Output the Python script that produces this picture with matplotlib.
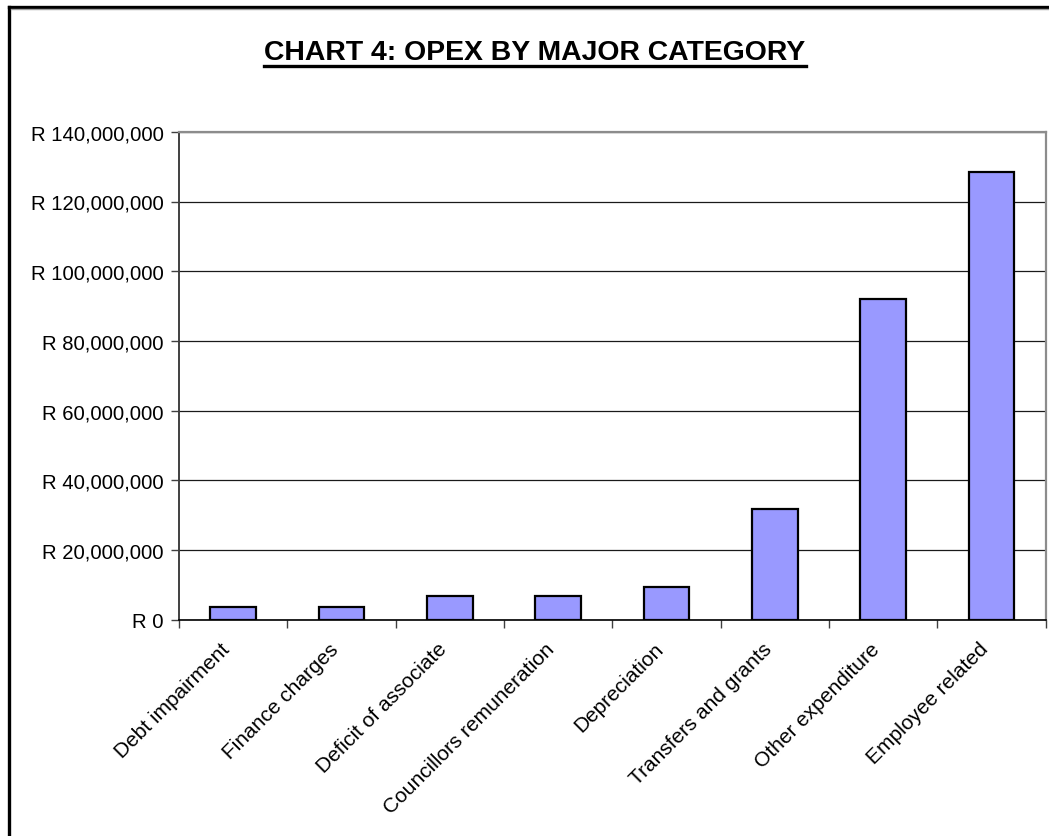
import matplotlib
matplotlib.use("Agg")
import matplotlib.pyplot as plt
from matplotlib.lines import Line2D
from matplotlib.ticker import FuncFormatter, FixedLocator
from matplotlib.transforms import ScaledTranslation

CATEGORIES = [
    "Debt impairment",
    "Finance charges",
    "Deficit of associate",
    "Councillors remuneration",
    "Depreciation",
    "Transfers and grants",
    "Other expenditure",
    "Employee related",
]
OPEX = [3_600_000, 3_600_000, 6_900_000, 6_900_000, 9_500_000,
        31_800_000, 92_100_000, 128_500_000]
Y_TICKS = [0, 20_000_000, 40_000_000, 60_000_000, 80_000_000,
           100_000_000, 120_000_000, 140_000_000]
TITLE = "CHART 4: OPEX BY MAJOR CATEGORY"

BAR = "#9999FF"
FONT = "Liberation Sans"

plt.rcParams["font.family"] = FONT

W, H = 1049, 837
fig = plt.figure(figsize=(W / 100, H / 100), dpi=100)
fig.patch.set_facecolor("white")

ax = fig.add_axes([179 / W, 1 - 620.7 / H, (1045.7 - 179) / W, (620.7 - 132.8) / H])
x = list(range(len(CATEGORIES)))
ax.bar(x, OPEX, width=0.42, color=BAR, edgecolor="black", linewidth=1.6, zorder=3)

ax.set_xlim(-0.5, len(CATEGORIES) - 0.5)
ax.set_ylim(0, Y_TICKS[-1])
ax.yaxis.set_major_locator(FixedLocator(Y_TICKS))
ax.yaxis.set_major_formatter(FuncFormatter(lambda v, _: f"R {v:,.0f}"))
ax.grid(axis="y", color="#1A1A1A", linewidth=0.9, zorder=1)
ax.tick_params(axis="y", length=6, width=1, color="#404040", pad=5, labelsize=14.6)

# category names sit between the boundary ticks
ax.set_xticks(x)
ax.set_xticklabels(CATEGORIES, rotation=45, ha="right", rotation_mode="anchor",
                   fontsize=15)
ax.tick_params(axis="x", which="major", length=0, pad=6)
shift = ScaledTranslation(-13 / 100, -11 / 100, fig.dpi_scale_trans)
for lbl in ax.get_xticklabels():
    lbl.set_transform(lbl.get_transform() + shift)
ax.set_xticks([i - 0.5 for i in range(len(CATEGORIES) + 1)], minor=True)
ax.tick_params(axis="x", which="minor", length=6, width=1, color="#404040")

for side in ("top", "right"):
    ax.spines[side].set_color("#8C8C8C")
    ax.spines[side].set_linewidth(1.6)
ax.spines["left"].set_color("#404040")
ax.spines["left"].set_linewidth(1.4)
ax.spines["bottom"].set_color("black")
ax.spines["bottom"].set_linewidth(1.2)

# outer chart frame, running off the right and bottom edges
fx, fy = 9 / W, 1 - 7.5 / H
fig.add_artist(Line2D([fx, fx], [-0.01, fy], transform=fig.transFigure,
                      color="black", linewidth=2.4))
fig.add_artist(Line2D([fx, 1.01], [fy, fy], transform=fig.transFigure,
                      color="black", linewidth=2.4))
fig.add_artist(Line2D([fx + 2 / W, 1.01], [fy - 2.5 / H, fy - 2.5 / H],
                      transform=fig.transFigure, color="#A0A0A0", linewidth=1))

title = fig.text(535 / W, 1 - 59.5 / H, TITLE, ha="center", va="baseline",
                 fontsize=20.4, fontweight="bold")
fig.canvas.draw()
bb = title.get_window_extent().transformed(fig.transFigure.inverted())
uy = 1 - 66.8 / H
fig.add_artist(Line2D([bb.x0, bb.x1], [uy, uy], transform=fig.transFigure,
                      color="black", linewidth=2.4))

fig.savefig("out.png", dpi=100)
